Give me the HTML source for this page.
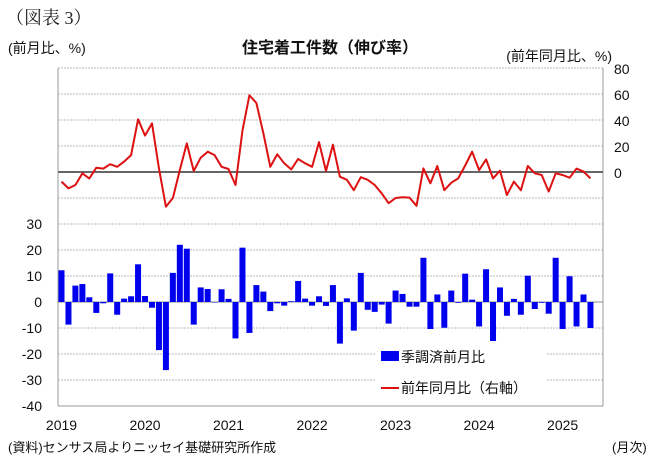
<!DOCTYPE html>
<html><head><meta charset="utf-8"><style>
body{margin:0;background:#fff;}
svg{display:block;font-family:"Liberation Sans","Noto Sans CJK JP",sans-serif;}
</style></head><body>
<svg id="c" width="667" height="465" xmlns="http://www.w3.org/2000/svg">
<text x="6" y="24" font-size="18" font-family="Liberation Serif,Noto Serif CJK SC,serif" fill="#222">（図表 3）</text>
<text x="8" y="53" font-size="14" fill="#111">(前月比、%)</text>
<text x="330" y="53" font-size="16" font-weight="bold" text-anchor="middle" fill="#111">住宅着工件数（伸び率）</text>
<text x="612" y="61" font-size="14" text-anchor="end" fill="#111">(前年同月比、%)</text>
<g id="grid"></g>
<g id="bars"></g>
<rect x="376" y="341" width="170" height="60" fill="#fff"/>
<g id="line"></g>
<rect x="381" y="351" width="18" height="10" fill="#0000ee"/>
<text x="401" y="362" font-size="14" fill="#111">季調済前月比</text>
<line x1="381" y1="388" x2="399" y2="388" stroke="#dd1111" stroke-width="2"/>
<text x="401" y="393" font-size="14" fill="#111">前年同月比（右軸）</text>
<text x="8" y="452" font-size="13" fill="#111">(資料)センサス局よりニッセイ基礎研究所作成</text>
<text x="612" y="452" font-size="13" fill="#111">(月次)</text>
</svg>
<script>
var NS="http://www.w3.org/2000/svg",svg=document.getElementById('c');
function el(p,t,a,txt){var e=document.createElementNS(NS,t);for(var k in a)e.setAttribute(k,a[k]);if(txt!==undefined)e.textContent=txt;document.getElementById(p).appendChild(e);return e;}
for(var i=0;i<=13;i++){var y=68+26*i;el('grid','line',{x1:58,x2:603,y1:y,y2:y,stroke:'#bbb','stroke-dasharray':'2,1','stroke-width':1});}
for(var v=30;v>=-40;v-=10){var y=302-v*2.6;el('grid','text',{x:42,y:y+5,'font-size':14,'text-anchor':'end',fill:'#111'},v);}
for(var v=80;v>=0;v-=20){var y=172-v*1.3;el('grid','text',{x:614,y:y+6,'font-size':14,fill:'#111'},v);}
el('grid','line',{x1:58,x2:58,y1:68,y2:406,stroke:'#999'});
el('grid','line',{x1:603,x2:603,y1:68,y2:406,stroke:'#999'});
el('grid','line',{x1:58,x2:603,y1:406,y2:406,stroke:'#999'});
el('grid','line',{x1:58,x2:603,y1:302,y2:302,stroke:'#888'});
var yrs=[2019,2020,2021,2022,2023,2024,2025];
for(var j=0;j<7;j++){el('grid','text',{x:61.5+6.96*12*j,y:430,'font-size':14,'text-anchor':'middle',fill:'#111'},yrs[j]);}
var b=[12.2,-8.7,6.3,6.9,1.8,-4.2,-0.5,11,-4.9,1.3,2.2,14.5,2.3,-2.2,-18.5,-26.2,11.2,22,20.5,-8.7,5.6,5,0,4.9,1.2,-14,20.9,-11.9,6.5,4,-3.5,-0.5,-1.4,0.3,8.1,1.3,-1.4,2.2,-1.5,6.5,-16,1.4,-11,11.2,-3,-3.8,-1,-8.3,4.4,3.1,-1.8,-1.8,17,-10.4,2.9,-9.9,4.4,-0.3,10.9,0.9,-9.4,12.6,-15.5,5.6,-5.3,1.2,-4.9,10.1,-2.7,-0.3,-4.5,17,-10.4,9.9,-9.4,2.9,-10];
var l=[-7.4,-12.6,-10,-1,-5,3.3,2.6,6,4,8,13,40.5,28,37.4,3,-26.7,-20,1.5,22,0.8,11,15.6,13,4,2.3,-10,32,59,53,30,4,13.6,6.7,2,10,6.7,4,23,0.8,21,-3.6,-6,-14,-4,-6,-10,-16.4,-24,-20,-19.5,-19.7,-26,2.8,-8.7,4.6,-14,-8.2,-4.9,5,15.6,1.5,9.7,-4.9,1,-17.7,-7.4,-14,4.6,-1,-2.3,-15,-1,-2.3,-4.4,2.6,0.3,-4.9];
el('line','line',{x1:58,x2:603,y1:172,y2:172,stroke:'#666','stroke-width':2});
var pts=[];
for(var i=0;i<b.length;i++){var x=61.5+6.96*i,h=b[i]*2.6;
el('bars','rect',{x:x-3,y:h>0?302-h:302,width:6,height:Math.max(Math.abs(h),0.5),fill:'#0000ee'});
pts.push(x.toFixed(1)+','+(172-l[i]*1.3).toFixed(1));}
el('line','polyline',{points:pts.join(' '),fill:'none',stroke:'#dd1111','stroke-width':2,'stroke-linejoin':'round'});
</script>
</body></html>
